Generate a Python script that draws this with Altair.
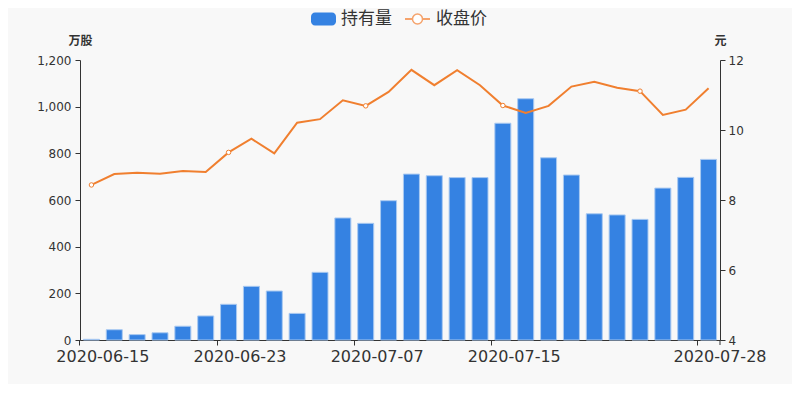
import altair as alt
import pandas as pd

dates = ["2020-06-15", "2020-06-16", "2020-06-17", "2020-06-18", "2020-06-19",
         "2020-06-22", "2020-06-23", "2020-06-24", "2020-06-29", "2020-06-30",
         "2020-07-01", "2020-07-03", "2020-07-07", "2020-07-08", "2020-07-09",
         "2020-07-10", "2020-07-13", "2020-07-14", "2020-07-15", "2020-07-16",
         "2020-07-17", "2020-07-20", "2020-07-21", "2020-07-22", "2020-07-23",
         "2020-07-24", "2020-07-27", "2020-07-28"]
holdings = [3, 44, 23, 31, 59, 103, 153, 230, 210, 114, 290, 523, 500, 597,
            711, 704, 696, 696, 929, 1034, 781, 707, 541, 536, 517, 651, 697, 774]
prices = [8.43, 8.74, 8.78, 8.75, 8.83, 8.80, 9.36, 9.75, 9.33, 10.21, 10.31,
          10.85, 10.69, 11.09, 11.72, 11.28, 11.71, 11.28, 10.70, 10.49, 10.69,
          11.24, 11.38, 11.21, 11.11, 10.43, 10.58, 11.19]
label_dates = ["2020-06-15", "2020-06-23", "2020-07-07", "2020-07-15", "2020-07-28"]
series_names = ["持有量", "收盘价"]
left_unit = "万股"
right_unit = "元"

df = pd.DataFrame({"date": dates, "hold": holdings, "price": prices,
                   "idx": list(range(len(dates)))})

FONT = "DejaVu Sans, Noto Sans CJK SC"
TXT = "#333333"
BLUE = "#3582e2"
ORANGE = "#f07f2f"
W, H = 640, 280
STEP = W / len(dates)
LEG_Y = -41

base = alt.Chart(df)

xenc = alt.X(
    "date:O", sort=dates,
    scale=alt.Scale(paddingInner=0.3, paddingOuter=0.15),
    axis=alt.Axis(values=label_dates, title=None, labelAngle=0, labelFontSize=16,
                  labelColor=TXT, labelFont=FONT, labelOffset=STEP / 2,
                  bandPosition=-0.2143, tickSize=5, tickColor=TXT, domainColor=TXT,
                  labelPadding=3, labelOverlap=False, labelBound=False,
                  labelFlush=False, grid=False),
)

bars = base.mark_bar(color=BLUE, stroke="#a9c9f1", strokeWidth=1).encode(
    x=xenc,
    y=alt.Y("hold:Q", scale=alt.Scale(domain=[0, 1200]),
            axis=alt.Axis(values=[0, 200, 400, 600, 800, 1000, 1200], format=",d",
                          title=left_unit, titleAngle=0, titleX=0, titleY=-20,
                          titleAlign="center", titleBaseline="middle",
                          titleFontSize=12, titleFontWeight="bold", titleColor=TXT,
                          titleFont=FONT, labelFontSize=12, labelColor=TXT,
                          labelFont=FONT, tickSize=5, tickColor=TXT, domainColor=TXT,
                          labelPadding=4, grid=False)),
)

yright = alt.Y("price:Q", scale=alt.Scale(domain=[4, 12]),
               axis=alt.Axis(orient="right", values=[4, 6, 8, 10, 12],
                             title=right_unit, titleAngle=0, titleX=0, titleY=-20,
                             titleAlign="center", titleBaseline="middle",
                             titleFontSize=12, titleFontWeight="bold", titleColor=TXT,
                             titleFont=FONT, labelFontSize=12, labelColor=TXT,
                             labelFont=FONT, tickSize=5, tickColor=TXT,
                             domainColor=TXT, labelPadding=3, grid=False))

line = base.mark_line(color=ORANGE, strokeWidth=2).encode(
    x=alt.X("date:O", sort=dates), y=yright)
pts = base.mark_point(shape="circle", filled=True, fill="white", stroke=ORANGE,
                      strokeWidth=1, size=20, opacity=1).encode(
    x=alt.X("date:O", sort=dates), y=alt.Y("price:Q")
).transform_filter(alt.datum.idx % 6 == 0)

price_layer = alt.layer(line, pts)

one = pd.DataFrame({"a": [0]})
end_tick = alt.Chart(one).mark_rule(color=TXT).encode(
    x=alt.value(W), y=alt.value(H), y2=alt.value(H + 5))

leg_rect = alt.Chart(one).mark_rect(color=BLUE, cornerRadius=4).encode(
    x=alt.value(231), x2=alt.value(256), y=alt.value(LEG_Y - 6.5),
    y2=alt.value(LEG_Y + 6.5))
leg_t1 = alt.Chart(pd.DataFrame({"t": [series_names[0]]})).mark_text(
    align="left", baseline="middle", fontSize=17, color=TXT, font=FONT).encode(
    x=alt.value(261), y=alt.value(LEG_Y), text="t:N")
leg_line = alt.Chart(one).mark_rule(color="#f5a36c", strokeWidth=2).encode(
    x=alt.value(325), x2=alt.value(350), y=alt.value(LEG_Y))
leg_pt = alt.Chart(one).mark_point(shape="circle", filled=True, fill="white",
                                   stroke="#f5a36c", strokeWidth=1.5, size=100,
                                   opacity=1).encode(
    x=alt.value(337.5), y=alt.value(LEG_Y))
leg_t2 = alt.Chart(pd.DataFrame({"t": [series_names[1]]})).mark_text(
    align="left", baseline="middle", fontSize=17, color=TXT, font=FONT).encode(
    x=alt.value(356), y=alt.value(LEG_Y), text="t:N")

chart = alt.layer(
    bars, price_layer, end_tick, leg_rect, leg_t1, leg_line, leg_pt, leg_t2
).resolve_scale(y="independent").properties(
    width=W, height=H,
    autosize=alt.AutoSizeParams(type="none"),
    padding={"left": 72, "top": 52, "right": 72, "bottom": 44},
    background="#f8f8f8",
).configure_view(stroke=None)

chart.save("out.html", embed_options={"renderer": "svg", "actions": False})
